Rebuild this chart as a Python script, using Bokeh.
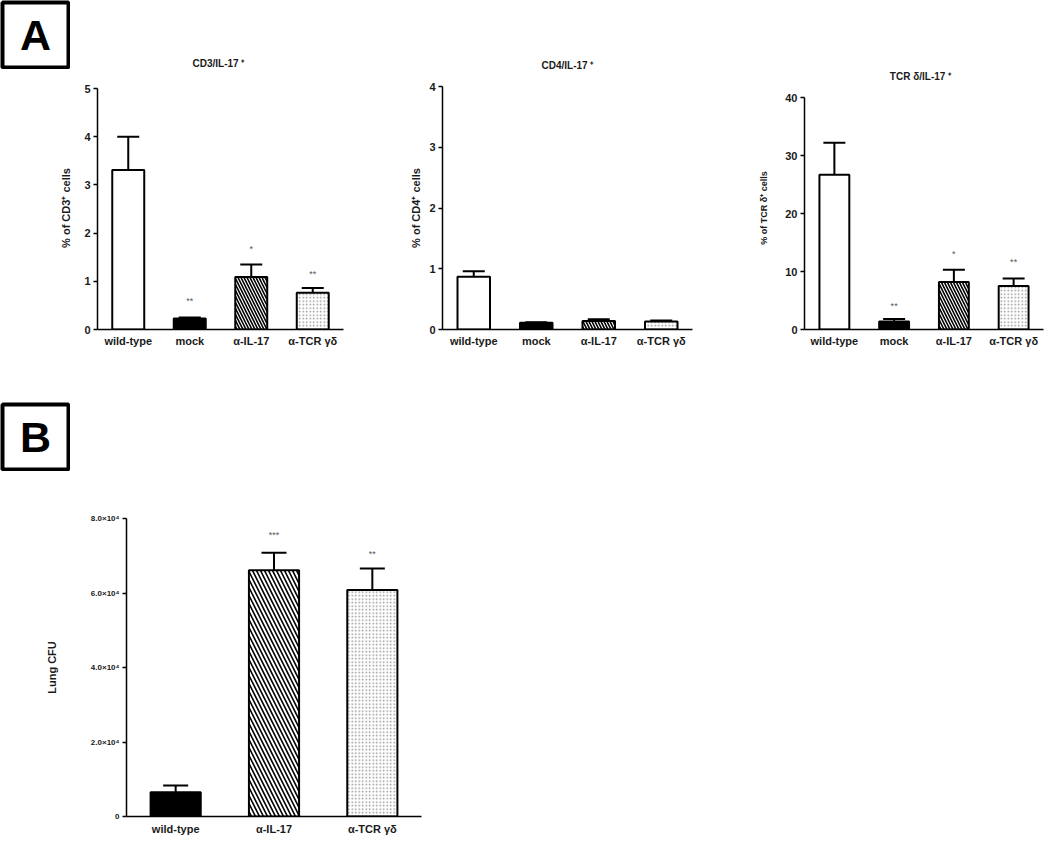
from bokeh.plotting import figure
from bokeh.models import ColumnDataSource, Whisker, Label, FixedTicker, Range1d, FactorRange, TeeHead, Spacer
from bokeh.layouts import row, column
from bokeh.embed import file_html
from bokeh.resources import INLINE
from bokeh.core.properties import value

# ---------------- data ----------------
groups_a = ["wild-type", "mock", "α-IL-17", "α-TCR γδ"]

cd3_mean = [3.31, 0.23, 1.09, 0.76]
cd3_low = [2.63, 0.21, 0.84, 0.68]
cd3_high = [4.00, 0.25, 1.35, 0.86]
cd3_stars = ["", "**", "*", "**"]
cd3_star_y = [0.0, 0.60, 1.68, 1.16]

cd4_mean = [0.87, 0.11, 0.14, 0.13]
cd4_low = [0.78, 0.10, 0.12, 0.11]
cd4_high = [0.96, 0.12, 0.17, 0.15]

tcr_mean = [26.7, 1.4, 8.2, 7.5]
tcr_low = [21.2, 1.1, 6.4, 6.2]
tcr_high = [32.2, 1.8, 10.3, 8.8]
tcr_stars = ["", "**", "*", "**"]
tcr_star_y = [0.0, 4.1, 13.1, 11.6]

groups_b = ["wild-type", "α-IL-17", "α-TCR γδ"]
cfu_mean = [6500, 66100, 60800]
cfu_low = [6000, 61500, 54900]
cfu_high = [8300, 70800, 66600]
cfu_stars = ["", "***", "**"]
cfu_star_y = [0, 75700, 70600]
cfu_ticks = [0, 20000, 40000, 60000, 80000]
cfu_tick_labels = ["0", "2.0×10⁴", "4.0×10⁴", "6.0×10⁴", "8.0×10⁴"]

titles_a = ["CD3/IL-17 ⁺", "CD4/IL-17 ⁺", "TCR δ/IL-17 ⁺"]

FONT = "Liberation Sans"
TXT = "#1a1a1a"

styles_a = [
    dict(fill_color="white", hatch_pattern=" ", hatch_color="white"),
    dict(fill_color="black", hatch_pattern=" ", hatch_color="black"),
    dict(fill_color="white", hatch_pattern="\\", hatch_color="black"),
    dict(fill_color="white", hatch_pattern=".", hatch_color="#949494"),
]


def make_panel(groups, means, lows, highs, styles, ymax, ticks, width, height,
               b_left, b_right, b_top, b_bottom, frame_top, tick_top, frame_bottom,
               ylabel, label_standoff, label_font, tick_font, xfont, bar_w, hatch_scale, cap):
    # extend the range above the top tick so that the top tick sits at tick_top px
    y_end = ymax * (frame_bottom - frame_top) / (frame_bottom - tick_top)
    p = figure(x_range=FactorRange(*groups, range_padding=0),
               y_range=Range1d(0, y_end), width=width, height=height,
               output_backend="svg", toolbar_location=None, title_location=None,
               min_border_left=b_left, min_border_right=b_right,
               min_border_top=b_top, min_border_bottom=b_bottom)
    p.outline_line_color = None
    p.xgrid.visible = False
    p.ygrid.visible = False
    for i, g in enumerate(groups):
        st = styles[i]
        p.vbar(x=[g], top=[means[i]], width=bar_w, bottom=0,
               fill_color=st["fill_color"], line_color="black", line_width=2,
               hatch_pattern=st["hatch_pattern"], hatch_color=st["hatch_color"],
               hatch_scale=hatch_scale if st["hatch_pattern"] == "\\" else 3.5,
               hatch_weight=1.6 if st["hatch_pattern"] == "\\" else 1.0)
    src = ColumnDataSource(dict(x=groups, lo=lows, hi=highs))
    w = Whisker(base="x", lower="lo", upper="hi", source=src, line_width=2, line_color="black",
                upper_head=TeeHead(size=cap, line_width=2, line_color="black"),
                lower_head=TeeHead(size=cap, line_width=2, line_color="black"))
    p.add_layout(w)
    ax = p.yaxis[0]
    ax.ticker = FixedTicker(ticks=ticks)
    ax.bounds = (0, ymax)
    ax.minor_tick_line_color = None
    ax.major_tick_in = 0
    ax.major_tick_out = 4
    ax.axis_line_width = 1.5
    ax.major_tick_line_width = 1.5
    ax.major_label_text_font = FONT
    ax.major_label_text_font_style = "bold"
    ax.major_label_text_font_size = tick_font
    ax.major_label_text_color = TXT
    ax.major_label_standoff = 3
    ax.axis_label = ylabel
    ax.axis_label_text_font = FONT
    ax.axis_label_text_font_style = "bold"
    ax.axis_label_text_font_size = label_font
    ax.axis_label_text_color = TXT
    ax.axis_label_standoff = label_standoff
    xa = p.xaxis[0]
    xa.major_tick_line_color = None
    xa.major_tick_out = 0
    xa.minor_tick_line_color = None
    xa.axis_line_width = 1.5
    xa.major_label_text_font = FONT
    xa.major_label_text_font_style = "bold"
    xa.major_label_text_font_size = xfont
    xa.major_label_text_color = TXT
    xa.major_label_standoff = 5
    return p


def add_stars(p, groups, stars, ys, size):
    src = ColumnDataSource(dict(x=groups, y=ys, t=stars))
    p.text(x="x", y="y", text="t", source=src, text_align="center", text_baseline="middle",
           text_font=value(FONT), text_font_size=size, text_color="#555555")


def letter_box(letter, w, h):
    b = figure(width=w, height=h, x_range=Range1d(0, 1), y_range=Range1d(0, 1),
               output_backend="svg", toolbar_location=None, title_location=None,
               x_axis_type=None, y_axis_type=None,
               min_border_left=2, min_border_right=2, min_border_top=2, min_border_bottom=2)
    b.xgrid.visible = False
    b.ygrid.visible = False
    b.outline_line_color = "black"
    b.outline_line_width = 4
    b.add_layout(Label(x=0.5, y=0.5, text=letter, text_align="center", text_baseline="middle",
                       text_font=FONT, text_font_style="bold", text_font_size="43px",
                       text_color="black"))
    return b


# ---- header strip with panel titles (above the three A panels) ----
strip = figure(width=980, height=82, x_range=Range1d(0, 980), y_range=Range1d(0, 82),
               output_backend="svg", toolbar_location=None, title_location=None,
               x_axis_type=None, y_axis_type=None,
               min_border_left=0, min_border_right=0, min_border_top=0, min_border_bottom=0)
strip.xgrid.visible = False
strip.ygrid.visible = False
strip.outline_line_color = None
title_pos = [(148, 19), (497, 17), (850, 6)]
for t, (tx, ty) in zip(titles_a, title_pos):
    strip.add_layout(Label(x=tx, y=ty, text=t, text_align="center", text_baseline="middle",
                           text_font=FONT, text_font_style="bold", text_font_size="10px",
                           text_color=TXT))

boxA = letter_box("A", 70, 69)
header = row(column(boxA, Spacer(width=70, height=13)), strip)

# --- CD3 ---
p1 = make_panel(groups_a, cd3_mean, cd3_low, cd3_high, styles_a, 5, [0, 1, 2, 3, 4, 5],
                380, 288, 97, 37, 4, 41, 86, 88, 329,
                "% of CD3⁺ cells", 9, "11px", "11px", "11px", 0.52, 6, 22)
add_stars(p1, groups_a, cd3_stars, cd3_star_y, "9px")

# --- CD4 ---
p2 = make_panel(groups_a, cd4_mean, cd4_low, cd4_high, styles_a, 4, [0, 1, 2, 3, 4],
                360, 288, 62, 48, 4, 41, 86, 86, 329,
                "% of CD4⁺ cells", 4, "11px", "11px", "11px", 0.52, 6, 22)

# --- TCR ---
p3 = make_panel(groups_a, tcr_mean, tcr_low, tcr_high, styles_a, 40, [0, 10, 20, 30, 40],
                310, 288, 64, 7, 4, 41, 86, 97, 329,
                "% of TCR δ⁺ cells", 13, "9px", "11px", "11px", 0.5, 6, 22)
add_stars(p3, groups_a, tcr_stars, tcr_star_y, "9px")

# --- B ---
styles_b = [styles_a[1], styles_a[2], styles_a[3]]
pb = make_panel(groups_b, cfu_mean, cfu_low, cfu_high, styles_b, 80000, cfu_ticks,
                450, 371, 126, 29, 47, 26, 518, 518, 816,
                "Lung CFU", 30, "11px", "8px", "11px", 0.51, 8, 25)
pb.yaxis[0].major_label_overrides = {t: l for t, l in zip(cfu_ticks, cfu_tick_labels)}
pb.xaxis[0].major_label_standoff = 6
add_stars(pb, groups_b, cfu_stars, cfu_star_y, "9px")

boxB = letter_box("B", 70, 69)

layout = column(header, row(p1, p2, p3), Spacer(width=1050, height=32),
                row(boxB, Spacer(width=980, height=69)), row(pb, Spacer(width=600, height=371)))
open("out.html", "w").write(file_html(layout, INLINE))
